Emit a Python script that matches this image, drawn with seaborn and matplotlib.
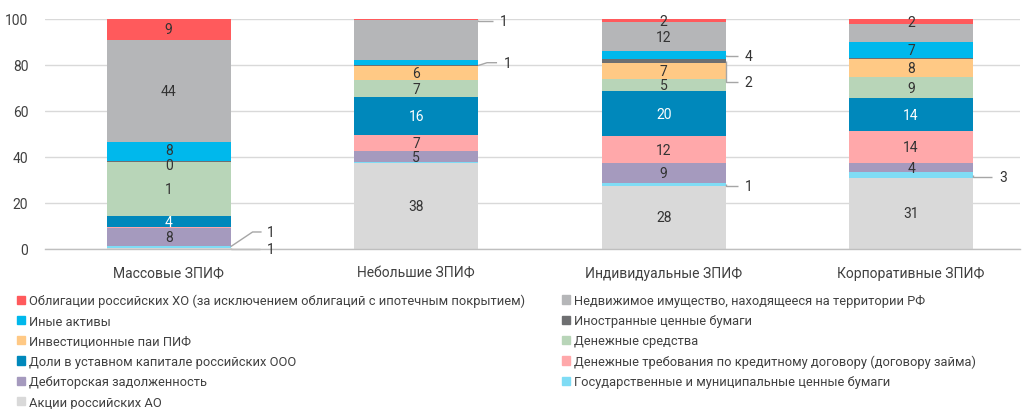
import matplotlib
matplotlib.use("Agg")
import matplotlib.pyplot as plt
import seaborn as sns
import numpy as np
from matplotlib.patches import Patch

# ---------------- data ----------------
categories = ["Массовые ЗПИФ", "Небольшие ЗПИФ", "Индивидуальные ЗПИФ", "Корпоративные ЗПИФ"]

# series, stacked bottom -> top
series = [
    "Акции российских АО",
    "Государственные и муниципальные ценные бумаги",
    "Дебиторская задолженность",
    "Денежные требования по кредитному договору (договору займа)",
    "Доли в уставном капитале российских ООО",
    "Денежные средства",
    "Инвестиционные паи ПИФ",
    "Иностранные ценные бумаги",
    "Иные активы",
    "Недвижимое имущество, находящееся на территории РФ",
    "Облигации российских ХО (за исключением облигаций с ипотечным покрытием)",
]

aktsii      = [0.5, 37.3, 27.6, 31.0]
gos         = [1.0, 0.4, 0.9, 2.5]
debitor     = [7.6, 4.7, 8.7, 3.8]
trebovaniya = [0.4, 7.3, 11.9, 13.8]
doli        = [4.9, 16.4, 19.6, 14.4]
dengi       = [23.4, 7.3, 5.1, 9.2]
pai         = [0.0, 6.1, 7.0, 8.0]
inostr      = [0.5, 0.5, 1.7, 0.2]
inye        = [8.3, 2.2, 3.6, 7.0]
nedvizh     = [44.4, 17.3, 12.4, 7.9]
obligatsii  = [9.0, 0.5, 1.5, 2.2]

# labels as printed on the chart
aktsii_lbl      = ["1", "38", "28", "31"]
gos_lbl         = ["1", "", "1", "3"]
debitor_lbl     = ["8", "5", "9", "4"]
trebovaniya_lbl = ["", "7", "12", "14"]
doli_lbl        = ["4", "16", "20", "14"]
dengi_lbl       = ["1", "7", "5", "9"]
pai_lbl         = ["", "6", "7", "8"]
inostr_lbl      = ["0", "1", "2", ""]
inye_lbl        = ["8", "", "4", "7"]
nedvizh_lbl     = ["44", "", "12", ""]
obligatsii_lbl  = ["9", "1", "2", "2"]

values = [aktsii, gos, debitor, trebovaniya, doli, dengi, pai, inostr, inye, nedvizh, obligatsii]
labels = [aktsii_lbl, gos_lbl, debitor_lbl, trebovaniya_lbl, doli_lbl, dengi_lbl, pai_lbl,
          inostr_lbl, inye_lbl, nedvizh_lbl, obligatsii_lbl]

# ---------------- style ----------------
colors = ["#D9D9D9", "#7FDCF5", "#A59ABE", "#FFA8AA", "#0088BB", "#B8D5B8",
          "#FFC985", "#6E6F71", "#00B8EC", "#B5B6B8", "#FF5A5C"]
label_colors = ["#333333"] * 11
label_colors[4] = "white"
# small vertical nudges of in-bar labels (px, positive = up)
label_nudge = {(0, 7): -4, (0, 8): 1}

# callouts: (category, series index, text y, elbow dx px, line end px, text x px) - relative to bar right edge
callouts = [
    (0, 0, 0.0, 0, 29, 36),
    (0, 1, 7.4, 22, 31, 36),
    (1, 10, 99.3, 0, 15, 22),
    (1, 7, 81.0, 9, 19, 26),
    (2, 8, 84.0, 0, 12, 19),
    (2, 7, 72.6, 0, 12, 19),
    (2, 1, 27.5, 0, 12, 19),
    (3, 1, 31.3, 0, 19, 26),
]

sns.set_theme(style="white")
plt.rcParams["font.family"] = ["Roboto", "DejaVu Sans"]
text_color = "#404040"
fs = 10
leg_fs = 9.3

fig = plt.figure(figsize=(10.22, 4.10), dpi=100)
ax = fig.add_axes([45 / 1022, 160 / 410, 975 / 1022, 230 / 410])
unit_px = 247.5  # px per category
px_per_unit_y = 2.3

bottom = np.zeros(len(categories))
bottoms = []
for name, vals, col in zip(series, values, colors):
    bottoms.append(bottom.copy())
    sns.barplot(x=categories, y=vals, order=categories, color=col, width=0.5,
                bottom=bottom.copy(), errorbar=None, saturation=1, linewidth=0, ax=ax)
    bottom = bottom + np.array(vals)

callout_set = {(c, s) for c, s, *_ in callouts}
for s, (vals, lbls) in enumerate(zip(values, labels)):
    for i, (v, t) in enumerate(zip(vals, lbls)):
        if t == "" or (i, s) in callout_set:
            continue
        y = bottoms[s][i] + v / 2 + label_nudge.get((i, s), 0) / px_per_unit_y
        ax.text(i, y, t, ha="center", va="center", fontsize=fs, color=label_colors[s])

for c, s, ty, dx1, dx2, tx in callouts:
    edge = c + 0.25
    yc = bottoms[s][c] + values[s][c] / 2
    ax.plot([edge, edge + dx1 / unit_px, edge + dx2 / unit_px], [yc, ty, ty],
            color="#A6A6A6", lw=1, clip_on=False, solid_capstyle="butt")
    ax.text(edge + tx / unit_px, ty, labels[s][c], ha="left", va="center",
            fontsize=fs, color="#333333", clip_on=False)

ax.set_xlim(-0.5, 3.44)
ax.set_ylim(0, 100)
ax.set_yticks(range(0, 101, 20))
ax.yaxis.grid(True, color="#D9D9D9", lw=1)
ax.set_axisbelow(True)
for sp in ["top", "right", "left"]:
    ax.spines[sp].set_visible(False)
ax.spines["bottom"].set_color("#BFBFBF")
ax.spines["bottom"].set_linewidth(1)
ax.set_xticks(range(4))
ax.set_xticklabels(categories)
ax.set_xticks([-0.5, 0.5, 1.5, 2.5], minor=True)
ax.tick_params(axis="x", which="major", length=0, pad=12, labelsize=fs, labelcolor=text_color)
ax.tick_params(axis="x", which="minor", length=8, direction="inout", color="#BFBFBF", width=1)
ax.tick_params(axis="y", length=0, pad=12, labelsize=fs, labelcolor=text_color)
ax.set_xlabel("")
ax.set_ylabel("")

# legend: two columns, top-to-bottom order of the stack read row-wise
order = list(range(len(series)))[::-1]
col1 = order[0::2]
col2 = order[1::2]
leg_kw = dict(loc="upper left", frameon=False, fontsize=leg_fs, handlelength=0.6,
              handleheight=0.6, handletextpad=0.35, labelspacing=0.56,
              borderpad=0, borderaxespad=0, labelcolor=text_color)
fig.legend([Patch(color=colors[k]) for k in col1], [series[k] for k in col1],
           bbox_to_anchor=(17 / 1022, 1 - 295 / 410), **leg_kw)
fig.legend([Patch(color=colors[k]) for k in col2], [series[k] for k in col2],
           bbox_to_anchor=(562 / 1022, 1 - 295 / 410), **leg_kw)

fig.savefig("out.png", dpi=100)
